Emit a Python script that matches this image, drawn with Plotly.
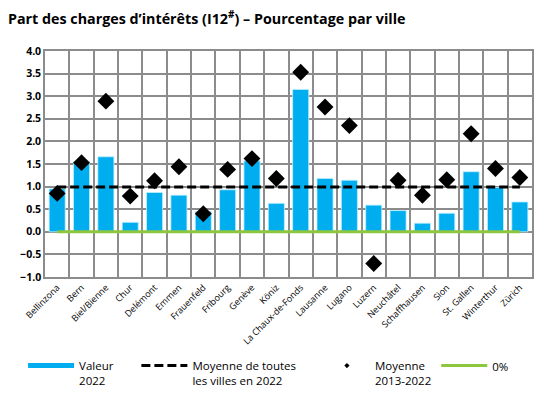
import plotly.graph_objects as go

cities = ["Bellinzona", "Bern", "Biel/Bienne", "Chur", "Delémont", "Emmen", "Frauenfeld",
          "Fribourg", "Genève", "Köniz", "La Chaux-de-Fonds", "Lausanne", "Lugano", "Luzern",
          "Neuchâtel", "Schaffhausen", "Sion", "St. Gallen", "Winterthur", "Zürich"]
valeur_2022 = [0.95, 1.55, 1.66, 0.21, 0.87, 0.81, 0.45, 0.93, 1.57, 0.63,
               3.15, 1.18, 1.14, 0.59, 0.47, 0.19, 0.41, 1.33, 0.98, 0.66]
moyenne_2013_2022 = [0.85, 1.53, 2.89, 0.79, 1.13, 1.44, 0.40, 1.38, 1.62, 1.18,
                     3.53, 2.76, 2.35, -0.70, 1.14, 0.81, 1.15, 2.17, 1.40, 1.20]
moyenne_villes_2022 = 0.99
zero_level = 0.0

BLUE = "#00AEEF"
GREEN = "#8DC63F"
GRID = "#8C8C8C"
FONT = "Open Sans"
NB = "\u00a0"

fig = go.Figure()

fig.add_trace(go.Bar(x=cities, y=valeur_2022, marker=dict(color=BLUE, line=dict(width=0.8, color="#BFEFFF")),
                     width=0.66, showlegend=False))
fig.add_trace(go.Scatter(x=cities, y=[zero_level] * len(cities), mode="lines",
                         line=dict(color=GREEN, width=3), showlegend=False))
fig.add_trace(go.Scatter(x=cities, y=[moyenne_villes_2022] * len(cities), mode="lines",
                         line=dict(color="black", width=3, dash="9px,4px"), showlegend=False))
fig.add_trace(go.Scatter(x=cities, y=moyenne_2013_2022, mode="markers",
                         marker=dict(symbol="diamond", size=13, color="black"), showlegend=False))

# legend entries
fig.add_trace(go.Scatter(x=[None], y=[None], mode="lines", line=dict(color=BLUE, width=5),
                         name="Valeur" + NB * 6 + "<br>2022"))
fig.add_trace(go.Scatter(x=[None], y=[None], mode="lines", line=dict(color="black", width=3, dash="9px,4px"),
                         name="Moyenne de toutes" + NB * 6 + "<br>les villes en 2022"))
fig.add_trace(go.Scatter(x=[None], y=[None], mode="markers", marker=dict(symbol="diamond", size=4, color="black"),
                         name="Moyenne<br>2013-2022"))
fig.add_trace(go.Scatter(x=[None], y=[None], mode="lines", line=dict(color=GREEN, width=3),
                         name="0%"))

fig.update_layout(
    width=553, height=398,
    margin=dict(l=37, r=29, t=43, b=121),
    paper_bgcolor="white", plot_bgcolor="white",
    font=dict(family=FONT, color="black", size=10),
    title=dict(text="<b>Part des charges d’intérêts (I12<sup>#</sup>) – Pourcentage par ville</b>",
               x=0.0, xanchor="left", y=0.972, yanchor="middle", pad=dict(l=0, t=0),
               font=dict(size=14.3, family=FONT, color="black")),
    showlegend=True,
    legend=dict(orientation="h", x=-0.045, xanchor="left", y=-0.33, yanchor="top",
                font=dict(size=11.5, family=FONT), itemwidth=46, tracegroupgap=0,
                valign="top", bgcolor="rgba(0,0,0,0)"),
    bargap=0.34,
)
fig.update_xaxes(type="category", tickson="boundaries", showgrid=True, gridcolor=GRID, gridwidth=1.5,
                 showline=True, linecolor=GRID, linewidth=1.5, mirror=True,
                 tickangle=-45, tickfont=dict(size=9, family=FONT, color="black"), ticks="", range=[-0.5, 19.5])
fig.update_yaxes(range=[-1.0, 4.0], dtick=0.5, tickformat=".1f", showgrid=True, gridcolor=GRID, gridwidth=1.5,
                 zeroline=False, showline=True, linecolor=GRID, linewidth=1.5, mirror=True,
                 tickprefix="<b>", ticksuffix="</b>",
                 tickfont=dict(size=10.5, family=FONT), ticks="")

fig.write_html("out.html")
